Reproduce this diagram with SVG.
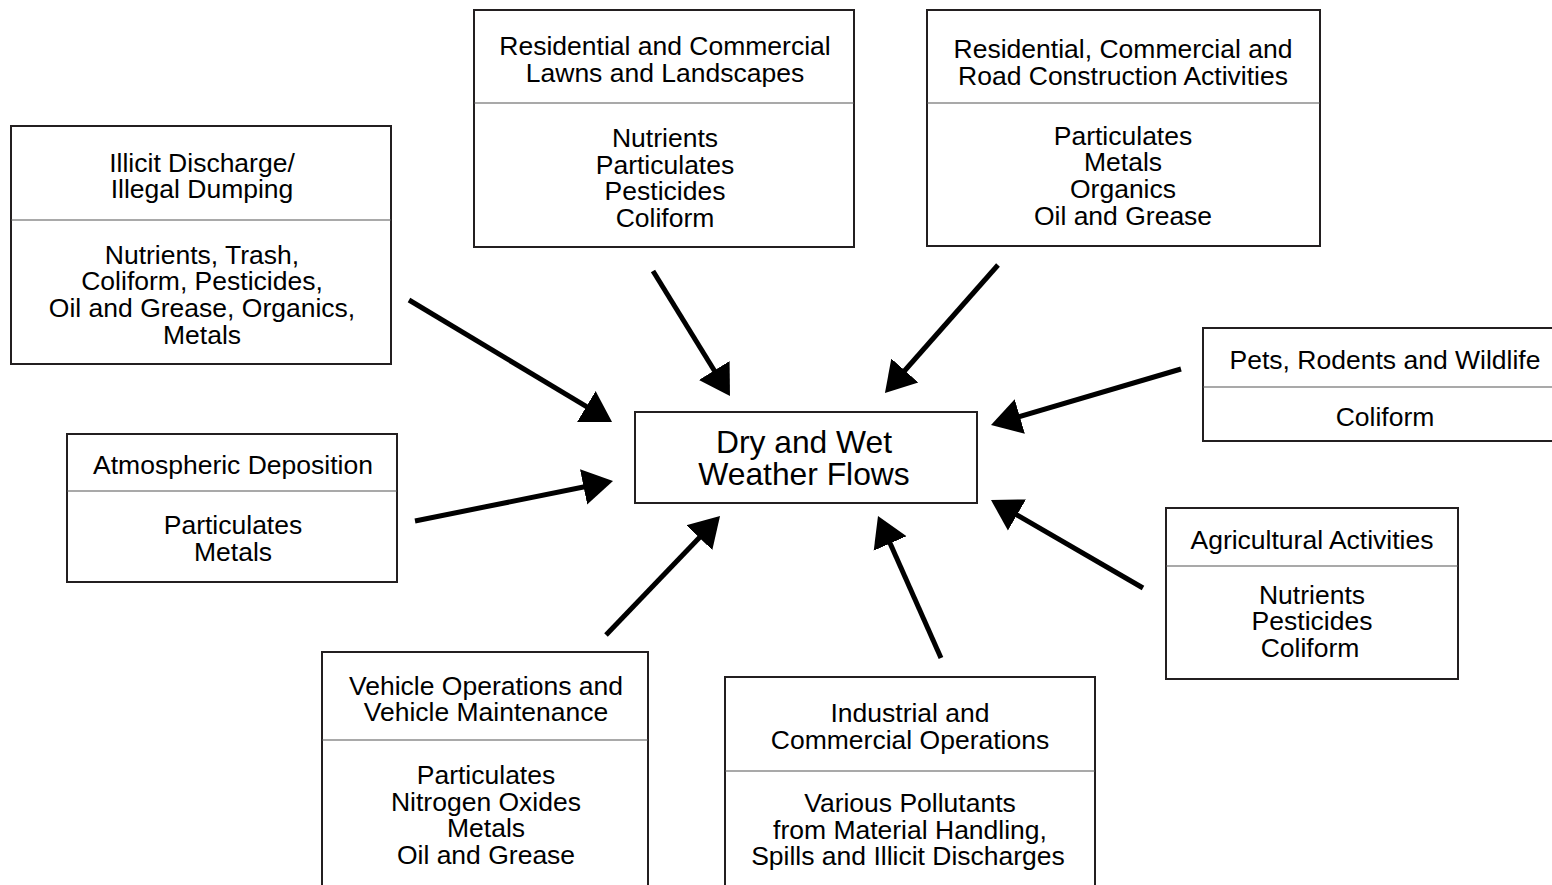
<svg xmlns="http://www.w3.org/2000/svg" width="1552" height="885" viewBox="0 0 1552 885">
<style>
.box{fill:#fff;stroke:#231f20;stroke-width:2}
.div{stroke:#555;stroke-width:1.2}
text{font-family:"Liberation Sans",Arial,Helvetica,sans-serif;font-size:26.5px;fill:#000;text-anchor:middle}
.big{font-size:31.8px}
.arr{stroke:#000;stroke-width:5;fill:none;marker-end:url(#ah)}
</style>
<defs>
<marker id="ah" markerUnits="userSpaceOnUse" markerWidth="32" markerHeight="38" viewBox="0 0 32 38" refX="10" refY="19" orient="auto">
<path d="M0,1 L30,19 L0,37 Z" fill="#000"/>
</marker>
</defs>
<rect width="1552" height="885" fill="#fff"/>
<g id="illicit">
<rect class="box" x="11" y="126" width="380" height="238"/>
<line class="div" x1="11" y1="220" x2="391" y2="220"/>
<text x="202" y="172">Illicit Discharge/</text>
<text x="202" y="198">Illegal Dumping</text>
<text x="202" y="264">Nutrients, Trash,</text>
<text x="202" y="290">Coliform, Pesticides,</text>
<text x="202" y="317">Oil and Grease, Organics,</text>
<text x="202" y="344">Metals</text>
</g>
<g id="lawns">
<rect class="box" x="474" y="10" width="380" height="237"/>
<line class="div" x1="474" y1="103" x2="854" y2="103"/>
<text x="665" y="55">Residential and Commercial</text>
<text x="665" y="82">Lawns and Landscapes</text>
<text x="665" y="147">Nutrients</text>
<text x="665" y="174">Particulates</text>
<text x="665" y="200">Pesticides</text>
<text x="665" y="227">Coliform</text>
</g>
<g id="construction">
<rect class="box" x="927" y="10" width="393" height="236"/>
<line class="div" x1="927" y1="103" x2="1320" y2="103"/>
<text x="1123" y="58">Residential, Commercial and</text>
<text x="1123" y="85">Road Construction Activities</text>
<text x="1123" y="145">Particulates</text>
<text x="1123" y="171">Metals</text>
<text x="1123" y="198">Organics</text>
<text x="1123" y="225">Oil and Grease</text>
</g>
<g id="pets">
<rect class="box" x="1203" y="328" width="360" height="113"/>
<line class="div" x1="1203" y1="387" x2="1552" y2="387"/>
<text x="1385" y="369">Pets, Rodents and Wildlife</text>
<text x="1385" y="426">Coliform</text>
</g>
<g id="atmospheric">
<rect class="box" x="67" y="434" width="330" height="148"/>
<line class="div" x1="67" y1="491" x2="397" y2="491"/>
<text x="233" y="474">Atmospheric Deposition</text>
<text x="233" y="534">Particulates</text>
<text x="233" y="561">Metals</text>
</g>
<g id="flows">
<rect class="box" x="635" y="412" width="342" height="91"/>
<text class="big" x="804" y="453">Dry and Wet</text>
<text class="big" x="804" y="485">Weather Flows</text>
</g>
<g id="agricultural">
<rect class="box" x="1166" y="508" width="292" height="171"/>
<line class="div" x1="1166" y1="566" x2="1458" y2="566"/>
<text x="1312" y="549">Agricultural Activities</text>
<text x="1312" y="604">Nutrients</text>
<text x="1312" y="630">Pesticides</text>
<text x="1310" y="657">Coliform</text>
</g>
<g id="vehicle">
<rect class="box" x="322" y="652" width="326" height="250"/>
<line class="div" x1="322" y1="740" x2="648" y2="740"/>
<text x="486" y="695">Vehicle Operations and</text>
<text x="486" y="721">Vehicle Maintenance</text>
<text x="486" y="784">Particulates</text>
<text x="486" y="811">Nitrogen Oxides</text>
<text x="486" y="837">Metals</text>
<text x="486" y="864">Oil and Grease</text>
</g>
<g id="industrial">
<rect class="box" x="725" y="677" width="370" height="230"/>
<line class="div" x1="725" y1="771" x2="1095" y2="771"/>
<text x="910" y="722">Industrial and</text>
<text x="910" y="749">Commercial Operations</text>
<text x="910" y="812">Various Pollutants</text>
<text x="910" y="839">from Material Handling,</text>
<text x="908" y="865">Spills and Illicit Discharges</text>
</g>
<g id="connectors">
<line class="arr" x1="409" y1="300" x2="594.9" y2="411.7"/>
<line class="arr" x1="653" y1="271" x2="719.5" y2="379.0"/>
<line class="arr" x1="998" y1="265" x2="898.2" y2="378.0"/>
<line class="arr" x1="1181" y1="369" x2="1010.2" y2="419.3"/>
<line class="arr" x1="1143" y1="588" x2="1008.3" y2="510.0"/>
<line class="arr" x1="941" y1="658" x2="886.1" y2="534.3"/>
<line class="arr" x1="606" y1="635" x2="706.2" y2="530.4"/>
<line class="arr" x1="415" y1="521" x2="593.4" y2="485.0"/>
</g>
</svg>
